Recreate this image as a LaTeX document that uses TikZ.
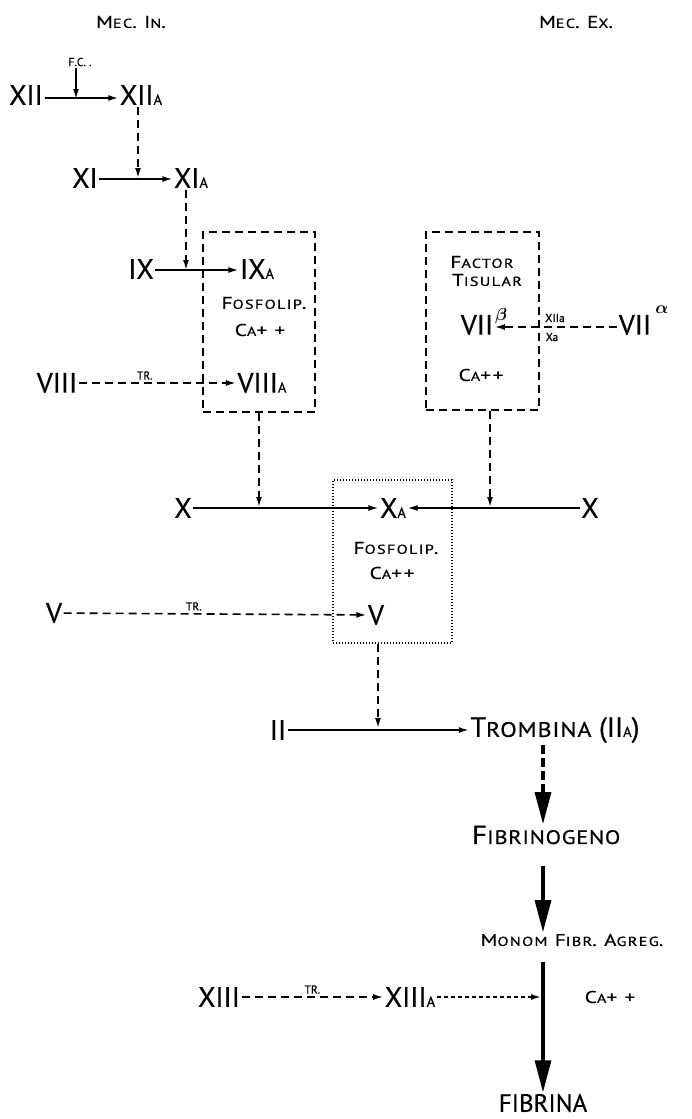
\documentclass[tikz,border=0pt]{standalone}
\usepackage{amsmath}
\usepackage{fontspec}
\setmainfont{PT Sans}[FakeBold=0.5]
\newfontfamily\wf{PT Sans}[FakeStretch=1.25, LetterSpace=10, FakeBold=0.5]
\newfontfamily\wg{PT Sans}[FakeStretch=1.15, LetterSpace=4, FakeBold=0.5]
\usetikzlibrary{arrows.meta}
\newcommand\fbig{\fontsize{28}{30}\selectfont}
\newcommand\fsm{\fontsize{14.5}{16}\selectfont}
\newcommand\fmid{\wf\fontsize{17}{19}\selectfont}
\newcommand\fmsm{\wf\fontsize{13}{15}\selectfont}
\newcommand\ftiny{\fontsize{11.5}{12}\selectfont}
\newcommand\ftrs{\wg\fontsize{21}{22}\selectfont}
\newcommand\ffib{\wg\fontsize{26}{27}\selectfont}
\newcommand\ffibs{\wg\fontsize{19.5}{21}\selectfont}
\newcommand\ffina{\fontsize{25}{26}\selectfont}
\begin{document}
\begin{tikzpicture}[x=1pt,y=-1pt,
  every node/.style={inner sep=1.5pt, font=\fbig},
  arr/.style={line width=1.6pt, -{Latex[length=10pt,width=6pt]}},
  darr/.style={arr, dash pattern=on 8pt off 5pt},
  fdarr/.style={arr, dash pattern=on 4pt off 3pt},
  box/.style={draw, line width=1.7pt, dash pattern=on 8pt off 5pt, inner sep=0pt},
  dbox/.style={draw, line width=1.8pt, dash pattern=on 1.3pt off 1.7pt, inner sep=0pt},
  bigarr/.style={line width=3.2pt, -{Triangle[length=32pt,width=16pt]}},
  dbigarr/.style={bigarr, dash pattern=on 9pt off 4pt},
]
\useasboundingbox (0,0) rectangle (692,1119);

% headings
\node[font=\fmid] (mecin) at (131,22) {M{\fmsm EC}. I{\fmsm N}.};
\node[font=\fmid] (mecex) at (576,22) {M{\fmsm EC}. E{\fmsm X}.};

% intrinsic
\node[font=\ftiny] (fc) at (80,62) {F.C. .};
\node (xii) at (26,95) {XII};
\node (xiia) at (141,95) {XII{\fsm A}};
\node (xi) at (85,178) {XI};
\node (xia) at (191,178) {XI{\fsm A}};
\node (ix) at (141,269) {IX};
\node (ixa) at (257,269) {IX{\fsm A}};
\node (viii) at (57,383) {VIII};
\node (viiia) at (262,383) {VIII{\fsm A}};

\node[box, minimum width=112pt, minimum height=180pt] (box1) at (259,322) {};
\node[font=\fmid] (fos1) at (264,303) {F{\fmsm OSFOLIP}.};
\node[font=\fmid] (ca1) at (260,330) {C{\fmsm A}+ +};

\coordinate (j0) at (76,99);
\coordinate (j1) at (138,178);
\coordinate (j2) at (186,270);
\draw[arr] ([yshift=-3pt]xii.east) -- ([yshift=-3pt]xiia.west);
\draw[arr] (fc.south -| j0) -- (j0);
\draw[darr] (xiia.south -| j1) -- (j1);
\draw[arr] ([yshift=-1pt]xi.east) -- ([yshift=-1pt]xia.west);
\draw[darr] (xia.south -| j2) -- (j2);
\draw[arr] ([yshift=-1pt]ix.east) -- ([yshift=-1pt]ixa.west);
\draw[darr] (viii) -- node[pos=0.42, above=1pt, font=\ftiny] {TR.} (viiia);

% extrinsic box
\node[box, minimum width=113pt, minimum height=178pt] (box2) at (482.5,321) {};
\node[font=\fmid] (fac) at (482,262) {F{\fmsm ACTOR}};
\node[font=\fmid] (tis) at (487,280) {T{\fmsm ISULAR}};
\node (vii) at (477,325) {VII};
\node (vii2) at (635,325) {VII};
\node[font=\fmid] (alpha) at (662,310) {$\boldsymbol{\alpha}$};
\node[font=\fmid] (beta) at (501,316) {$\boldsymbol{\beta}$};
\node[font=\ftiny] (xiial) at (555,318) {XIIa};
\node[font=\ftiny] (xal) at (552,337) {Xa};
\draw[darr] ([yshift=-2pt]vii2.west) -- ([yshift=-2pt]vii.east);
\node[font=\fmid] (ca2) at (481,375) {C{\fmsm A}++};

% X level
\node (xl) at (183,508) {X};
\node (xa) at (393,508) {X{\fsm A}};
\node (xr) at (590,508) {X};
\coordinate (j3) at (259,507);
\coordinate (j4) at (490,507);
\draw[arr] (xl) -- (xa);
\draw[arr] (xr) -- (xa);
\draw[darr] (box1.south) -- (j3);
\draw[darr] (box2.south -| j4) -- (j4);

\node[dbox, minimum width=119pt, minimum height=163pt] (box3) at (392.5,561.5) {};
\node[font=\fmid] (fos3) at (396,548) {F{\fmsm OSFOLIP}.};
\node[font=\fmid] (ca3) at (392,573) {C{\fmsm A}++};
\node (vl) at (54,613) {V};
\node (vr) at (376,615) {V};
\draw[darr] (vl) -- node[pos=0.43, above=1pt, font=\ftiny] {TR.} (vr);

% thrombin
\node (ii) at (278,730) {II};
\node (trom) at (555,730) {T{\ftrs ROMBINA} (II{\fsm A})};
\coordinate (j5) at (378,728);
\draw[arr] (ii) -- (trom);
\draw[darr] (box3.south -| j5) -- (j5);

\coordinate (ax) at (543,0);
\node[font=\ffib] (fib) at (546,835) {F{\ffibs IBRINOGENO}};
\node[font=\fmid] (mon) at (572,940) {M{\fmsm ONOM} F{\fmsm IBR}. A{\fmsm GREG}.};
\node[font=\ffina] (fina) at (543,1103) {FIBRINA};
\draw[dbigarr] (trom.south -| ax) -- (fib.north -| ax);
\draw[bigarr] ([yshift=-20pt]fib.south -| ax) -- (mon.north -| ax);
\draw[bigarr] ([yshift=-14pt]mon.south -| ax) -- (fina.north -| ax);

\node (xiii) at (219,997) {XIII};
\node (xiiia) at (410,997) {XIII{\fsm A}};
\node[font=\fmid] (ca4) at (610,997) {C{\fmsm A}+ +};
\coordinate (j6) at (541,997);
\draw[darr] (xiii) -- node[pos=0.5, above=1pt, font=\ftiny] {TR.} (xiiia);
\draw[fdarr] (xiiia) -- (j6);
\end{tikzpicture}
\end{document}
